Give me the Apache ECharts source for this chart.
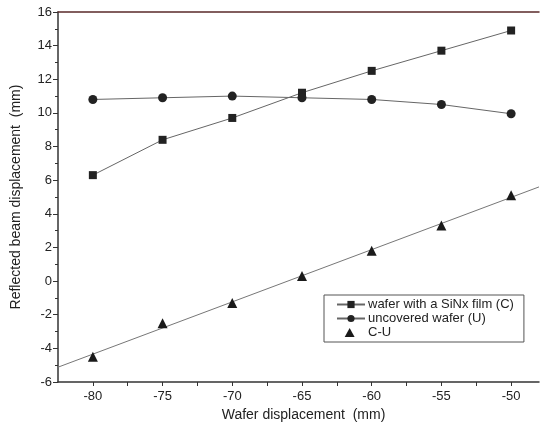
<!DOCTYPE html>
<html><head><meta charset="utf-8">
<script src="https://cdn.jsdelivr.net/npm/echarts@6/dist/echarts.min.js"></script>
<style>html,body{margin:0;padding:0;background:#fff}#c{width:540px;height:430px}</style>
</head><body><div id="c"></div>
<script>
const waferX = [-80, -75, -70, -65, -60, -55, -50];
const coated = [6.3, 8.4, 9.7, 11.2, 12.5, 13.7, 14.9];
const uncovered = [10.8, 10.9, 11.0, 10.9, 10.8, 10.5, 9.95];
const diffCU = [-4.5, -2.5, -1.3, 0.3, 1.8, 3.3, 5.1];
const fitX = [-82.5, -48];
const fitY = [-5.12, 5.6];
const yTicks = [-6, -4, -2, 0, 2, 4, 6, 8, 10, 12, 14, 16];
const xTicks = [-80, -75, -70, -65, -60, -55, -50];

const pairs = (xs, ys) => xs.map((x, i) => [x, ys[i]]);
const font = 'Liberation Sans, Arial, sans-serif';
const chart = echarts.init(document.getElementById('c'));
chart.setOption({
  animation: false,
  backgroundColor: '#fff',
  textStyle: {fontFamily: font},
  grid: {left: 58, top: 12, right: 1, bottom: 48, outerBoundsMode: 'none', containLabel: false},
  legend: {
    orient: 'vertical', left: 324, top: 295,
    padding: [3, 10, 3, 12], itemGap: 1,
    borderColor: '#555', borderWidth: 1,
    itemWidth: 28, itemHeight: 9,
    textStyle: {fontSize: 13, color: '#222', fontFamily: font, padding: [0, 0, 0, -2]},
    data: [
      {name: 'wafer with a SiNx film (C)'},
      {name: 'uncovered wafer (U)'},
      {name: 'C-U', icon: 'path://M0,0L0,0M7,10L12.5,0L18,10ZM28,10L28,10'}
    ]
  },
  xAxis: [{
    type: 'value', min: -82.5, max: -48, interval: 2.5,
    name: 'Wafer displacement  (mm)', nameLocation: 'middle', nameGap: 25,
    nameTextStyle: {fontSize: 14, color: '#222', fontFamily: font, padding: [0, 0, 0, 10]},
    axisLine: {onZero: false, lineStyle: {color: '#333', width: 1.5}},
    axisTick: {length: 4, lineStyle: {color: '#333'},
      customValues: [-80,-77.5,-75,-72.5,-70,-67.5,-65,-62.5,-60,-57.5,-55,-52.5,-50]},
    axisLabel: {fontSize: 13, color: '#222', margin: 8, customValues: xTicks,
      formatter: v => String(v)},
    splitLine: {show: false}
  }, {
    type: 'value', position: 'top', min: -82.5, max: -48,
    axisLine: {show: true, onZero: false, lineStyle: {color: '#5a2a2a', width: 1.5}},
    axisTick: {show: false}, axisLabel: {show: false}, splitLine: {show: false}
  }],
  yAxis: {
    type: 'value', min: -6, max: 16, interval: 2,
    name: 'Reflected beam displacement  (mm)', nameLocation: 'middle', nameGap: 35,
    nameTextStyle: {fontSize: 14, color: '#222', fontFamily: font},
    axisLine: {show: true, onZero: false, lineStyle: {color: '#333', width: 1.5}},
    axisTick: {length: 5, lineStyle: {color: '#333'}},
    minorTick: {show: true, splitNumber: 2, length: 3, lineStyle: {color: '#333'}},
    axisLabel: {fontSize: 13, color: '#222', margin: 6, customValues: yTicks},
    splitLine: {show: false}
  },
  series: [
    {name: 'wafer with a SiNx film (C)', type: 'line', data: pairs(waferX, coated),
      symbol: 'rect', symbolSize: 8, itemStyle: {color: '#222'},
      lineStyle: {color: '#666', width: 1}},
    {name: 'uncovered wafer (U)', type: 'line', data: pairs(waferX, uncovered),
      symbol: 'circle', symbolSize: 9, itemStyle: {color: '#222'},
      lineStyle: {color: '#666', width: 1}},
    {name: 'C-U', type: 'scatter', data: pairs(waferX, diffCU),
      symbol: 'triangle', symbolSize: 10, itemStyle: {color: '#1a1a1a', opacity: 1}, z: 5},
    {name: 'fit', type: 'line', data: pairs(fitX, fitY), symbol: 'none',
      lineStyle: {color: '#777', width: 1}, z: 1}
  ]
});
</script></body></html>
